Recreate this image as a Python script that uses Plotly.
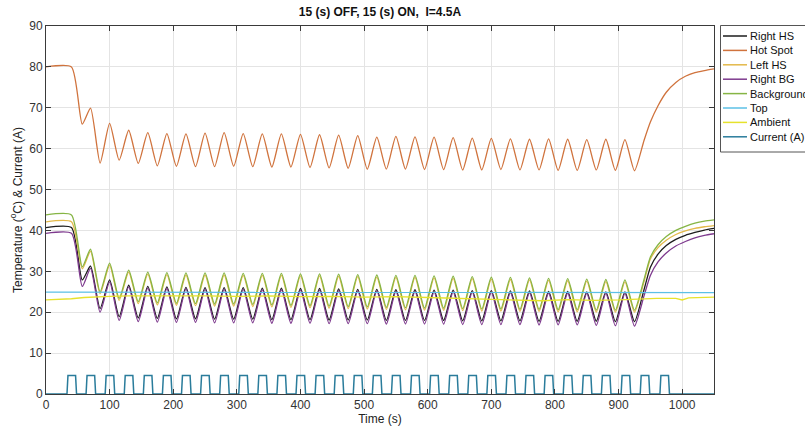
import plotly.graph_objects as go

# ---------------- data ----------------
start_time = [0, 40]
peak_t = [70, 100, 130, 160, 190, 220, 250, 280, 310, 340, 370, 400, 430, 460, 490,
          520, 550, 580, 610, 640, 670, 700, 730, 760, 790, 820, 850, 880, 910]
trough_t = [57, 85, 115, 145, 175, 205, 235, 265, 295, 325, 355, 385, 415, 445, 475,
            505, 535, 565, 595, 625, 655, 685, 715, 745, 775, 805, 835, 865, 895, 925]
recover_t = [940, 950, 962, 975, 990, 1005, 1020, 1035, 1050]

hot_start = 80.0
hot_peaks = [69.9, 66.2, 64.5, 63.9, 63.7, 63.6, 63.8, 63.9, 63.7, 63.6, 63.6, 63.5, 63.4, 63.3, 63.2,
             62.8, 63.0, 62.9, 62.8, 62.7, 62.6, 62.5, 62.4, 62.3, 62.4, 62.3, 62.2, 62.3, 62.2]
hot_troughs = [66.0, 56.5, 57.2, 56.4, 55.8, 55.7, 55.6, 55.6, 55.7, 55.6, 55.5, 55.5, 55.4, 55.3, 55.2,
               55.0, 55.0, 55.0, 54.9, 54.9, 54.8, 54.8, 54.9, 54.8, 54.8, 54.7, 54.7, 54.8, 54.7, 54.6]
hot_recover = [62.0, 66.5, 70.5, 73.8, 76.2, 77.7, 78.6, 79.1, 79.5]

bg_start = 43.8
bg_peaks = [35.4, 32.0, 30.3, 29.8, 29.7, 29.6, 29.6, 29.6, 29.5, 29.5, 29.5, 29.4, 29.4, 29.3, 29.2,
            29.1, 29.0, 29.0, 28.9, 28.8, 28.7, 28.6, 28.5, 28.4, 28.3, 28.2, 28.1, 28.0, 27.9]
bg_troughs = [31.1, 25.0, 23.4, 22.6, 22.3, 22.2, 22.1, 22.0, 22.0, 21.9, 21.8, 21.7, 21.6, 21.5, 21.4,
              21.3, 21.2, 21.1, 21.0, 21.0, 20.9, 20.8, 20.8, 20.7, 20.7, 20.6, 20.6, 20.5, 20.5, 20.5]
bg_recover = [28.0, 33.5, 36.5, 38.5, 40.0, 41.0, 41.8, 42.3, 42.6]

lhs_start = 42.1
lhs_peaks = [34.9, 31.5, 29.8, 29.3, 29.2, 29.1, 29.1, 29.1, 29.0, 29.0, 29.0, 28.9, 28.9, 28.8, 28.7,
             28.6, 28.5, 28.5, 28.4, 28.3, 28.2, 28.1, 28.0, 27.9, 27.8, 27.7, 27.6, 27.5, 27.4]
lhs_troughs = [30.6, 24.5, 22.9, 22.1, 21.8, 21.7, 21.6, 21.5, 21.5, 21.4, 21.3, 21.2, 21.1, 21.0, 20.9,
               20.8, 20.7, 20.6, 20.5, 20.5, 20.4, 20.3, 20.3, 20.2, 20.2, 20.1, 20.1, 20.0, 20.0, 20.0]
lhs_recover = [27.5, 33.0, 35.8, 37.6, 39.0, 39.9, 40.5, 40.9, 41.2]

rhs_start = 40.7
rhs_peaks = [31.3, 27.9, 26.6, 26.3, 26.2, 26.1, 26.0, 26.0, 26.0, 25.9, 25.9, 25.8, 25.8, 25.7, 25.6,
             25.6, 25.5, 25.5, 25.4, 25.4, 25.3, 25.3, 25.2, 25.2, 25.1, 25.1, 25.0, 25.0, 25.0]
rhs_troughs = [27.9, 20.9, 18.9, 18.6, 18.5, 18.4, 18.4, 18.3, 18.3, 18.3, 18.2, 18.2, 18.2, 18.1, 18.1,
               18.1, 18.0, 18.0, 18.0, 18.0, 17.9, 17.9, 17.9, 17.9, 17.8, 17.8, 17.8, 17.8, 17.7, 17.7]
rhs_recover = [25.5, 31.0, 34.2, 36.3, 37.8, 38.8, 39.5, 40.1, 40.5]

rbg_start = 39.3
rbg_peaks = [30.7, 27.4, 26.2, 25.9, 25.8, 25.7, 25.6, 25.6, 25.6, 25.5, 25.5, 25.4, 25.4, 25.3, 25.2,
             25.2, 25.1, 25.1, 25.0, 25.0, 24.9, 24.9, 24.8, 24.8, 24.7, 24.7, 24.6, 24.6, 24.6]
rbg_troughs = [26.3, 20.0, 18.0, 17.7, 17.6, 17.5, 17.5, 17.4, 17.4, 17.4, 17.3, 17.3, 17.3, 17.2, 17.2,
               17.2, 17.1, 17.1, 17.1, 17.1, 17.0, 17.0, 17.0, 17.0, 16.9, 16.9, 16.9, 16.8, 16.7, 16.6]
rbg_recover = [24.0, 29.0, 32.3, 34.5, 36.2, 37.3, 38.2, 38.8, 39.2]

top_t = [0, 300, 600, 900, 1050]
top_v = [24.9, 24.9, 24.9, 24.8, 24.8]

amb_t = [0, 20, 40, 60, 80, 100, 130, 160, 200, 250, 300, 350, 400, 450, 500, 550, 600, 650,
         700, 740, 780, 820, 860, 900, 930, 960, 990, 1000, 1010, 1030, 1050]
amb_v = [23.0, 23.1, 23.3, 23.6, 23.8, 23.9, 24.0, 24.0, 24.1, 24.0, 23.9, 24.0, 23.8, 23.9, 23.7,
         23.8, 23.6, 23.4, 23.2, 23.0, 22.8, 23.1, 22.9, 23.0, 23.2, 23.4, 23.4, 23.0, 23.5, 23.6, 23.7]

pulse_on = [33, 63, 93, 123, 153, 183, 213, 243, 273, 303, 333, 363, 393, 423, 453, 483,
            513, 543, 573, 603, 633, 663, 693, 723, 753, 783, 813, 843, 873, 904, 934, 965]
pulse_len = 15
current_amp = 4.5
t_end = 1050

x_ticks = [0, 100, 200, 300, 400, 500, 600, 700, 800, 900, 1000]
y_ticks = [0, 10, 20, 30, 40, 50, 60, 70, 80, 90]

# ---------------- layout constants (pixels) ----------------
W, H = 805, 435
ML, MR, MT, MB = 46, 91, 26, 41
PW, PH = W - ML - MR, H - MT - MB
FONT = "Liberation Sans, Arial, sans-serif"


def px_x(px):
    return (px - ML) / PW


def px_y(py):
    return (H - MB - py) / PH


def build(start, peaks, troughs, recover):
    pts = [(start_time[0], start), (start_time[1], start)]
    pts += list(zip(peak_t, peaks)) + list(zip(trough_t, troughs))
    pts += list(zip(recover_t, recover))
    pts.sort()
    return [p[0] for p in pts], [p[1] for p in pts]


def current_wave():
    xs, ys = [0], [0]
    for t0 in pulse_on:
        xs += [t0, t0 + 1.5, t0 + pulse_len - 1.5, t0 + pulse_len]
        ys += [0, current_amp, current_amp, 0]
    xs.append(t_end)
    ys.append(0)
    return xs, ys


fig = go.Figure()
series = [
    ("Right HS", build(rhs_start, rhs_peaks, rhs_troughs, rhs_recover), "#1c1c1c"),
    ("Hot Spot", build(hot_start, hot_peaks, hot_troughs, hot_recover), "#D0733D"),
    ("Left HS", build(lhs_start, lhs_peaks, lhs_troughs, lhs_recover), "#E3B94A"),
    ("Right BG", build(rbg_start, rbg_peaks, rbg_troughs, rbg_recover), "#7E3A8E"),
    ("Background", build(bg_start, bg_peaks, bg_troughs, bg_recover), "#86B545"),
    ("Top", (top_t, top_v), "#5CC0E6"),
    ("Ambient", (amb_t, amb_v), "#E6E22C"),
    ("Current (A)", current_wave(), "#2A7C9B"),
]
shapes, annos = [], []
# legend box
shapes.append(dict(type="rect", xref="paper", yref="paper", x0=px_x(720.5), x1=px_x(808),
                   y0=px_y(152), y1=px_y(25.5), line=dict(color="#555", width=1), fillcolor="white",
                   layer="above"))
for i, (name, (xs, ys), col) in enumerate(series):
    shape = "linear" if name in ("Current (A)", "Top", "Ambient") else "spline"
    fig.add_trace(go.Scatter(x=xs, y=ys, mode="lines", name=name, showlegend=False,
                             line=dict(color=col, width=1.5 if name == "Current (A)" else 1.3,
                                       shape=shape, smoothing=0.6 if shape == "spline" else None)))
    cy = 36 + i * 14.4
    shapes.append(dict(type="line", xref="paper", yref="paper", x0=px_x(723), x1=px_x(747),
                       y0=px_y(cy), y1=px_y(cy), line=dict(color=col, width=1.5), layer="above"))
    annos.append(dict(text=name, xref="paper", yref="paper", x=px_x(748), y=px_y(cy),
                      xanchor="left", yanchor="middle", showarrow=False,
                      font=dict(family=FONT, size=11, color="#111")))

axis_common = dict(showline=True, linecolor="#3a3a3a", linewidth=1, mirror="ticks",
                   ticks="inside", ticklen=5, tickcolor="#3a3a3a", showgrid=True,
                   gridcolor="#e4e4e4", zeroline=False, automargin=False,
                   tickfont=dict(family=FONT, size=12, color="#333"))
fig.update_xaxes(range=[0, t_end], tickvals=x_ticks, **axis_common,
                 title=dict(text="Time (s)", font=dict(family=FONT, size=12, color="#222"),
                            standoff=2))
fig.update_yaxes(range=[0, 90], tickvals=y_ticks, **axis_common,
                 title=dict(text="Temperature (<sup>o</sup>C) & Current (A)",
                            font=dict(family=FONT, size=12, color="#222"), standoff=4))

fig.update_layout(
    width=W, height=H,
    margin=dict(l=ML, r=MR, t=MT, b=MB, autoexpand=False),
    paper_bgcolor="white", plot_bgcolor="white",
    title=dict(text="<b>15 (s) OFF, 15 (s) ON,  I=4.5A</b>", x=px_x(380), xref="paper",
               xanchor="center", y=1 - 12 / H, yanchor="middle",
               font=dict(family=FONT, size=12, color="#111")),
    shapes=shapes, annotations=annos,
    showlegend=False,
)

fig.write_html("out.html", config={"displayModeBar": False},
               post_script="document.body.style.margin='0px';document.body.style.overflow='hidden';")
